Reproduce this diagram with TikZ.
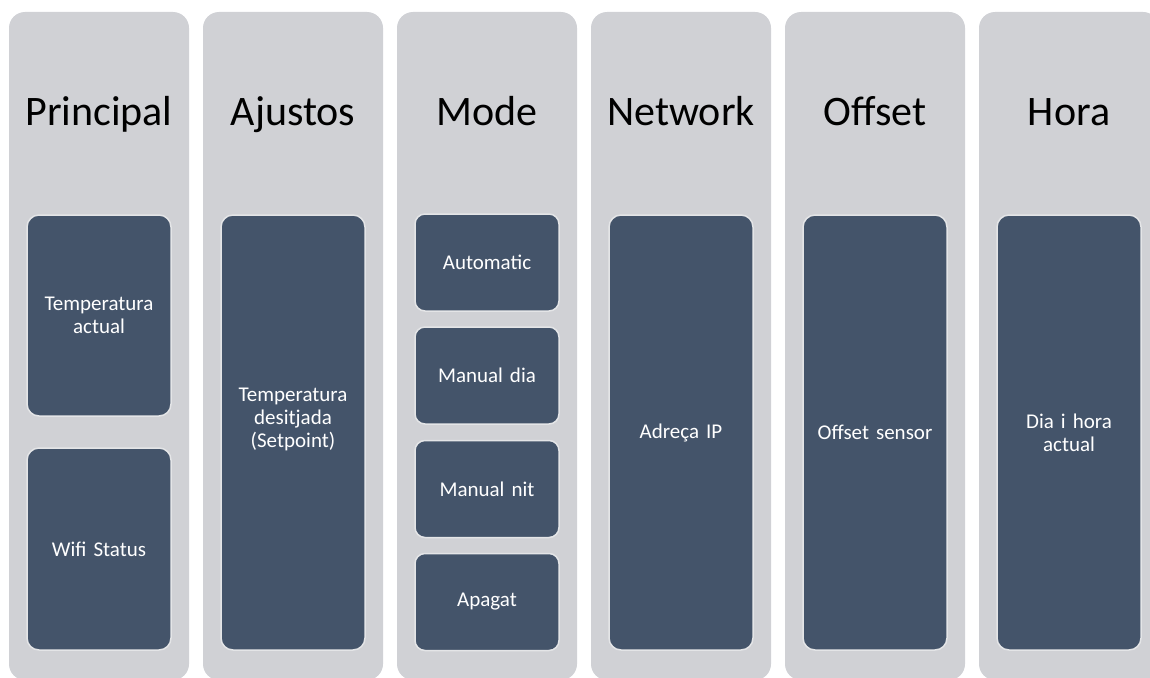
\documentclass[tikz,border=0pt]{standalone}
\usepackage{fontspec}
\setmainfont{Carlito}
\definecolor{colgrey}{HTML}{D0D1D5}
\definecolor{itemfill}{HTML}{44546A}
\definecolor{itemedge}{HTML}{E4E5E7}
\tikzset{
  column/.style={fill=colgrey, draw=none, rounded corners=16pt},
  heading/.style={anchor=base, text=black, font=\fontsize{42}{46}\selectfont, inner sep=0pt},
  item/.style={fill=itemfill, draw=itemedge, line width=1.5pt, rounded corners=12pt,
    minimum width=144pt, text width=130pt, align=center, text=white,
    font=\fontsize{21}{23}\selectfont, inner sep=0pt},
  smallitem/.style={item, rounded corners=10pt},
  itemtext/.style={text=white, align=center, font=\fontsize{21}{23}\selectfont, inner sep=0pt}
}
\begin{document}
\begin{tikzpicture}[x=1pt, y=-1pt]
\useasboundingbox (0,0) rectangle (1150,677);
\clip (0,0) rectangle (1150,677);

% grey columns
\foreach \i in {0,...,5}{
  \path[column] (9+194*\i,12) rectangle (189+194*\i,680);
}

% headings
\node[heading] (hA) at (99,125) {Principal};
\node[heading] (hB) at (293,125) {Ajustos};
\node[heading] (hC) at (487,125) {Mode};
\node[heading] (hD) at (681,125) {Network};
\node[heading] (hE) at (875,125) {Offset};
\node[heading] (hF) at (1069,125) {Hora};

% Principal
\node[item, minimum height=201pt] (temp) at (99,315.5) {Temperatura\\actual};
\node[item, minimum height=202pt] (wifi) at (99,549) {Wifi Status};

% Ajustos
\node[item, minimum height=435pt] (setp) at (293,432.5) {};
\node[itemtext] (setpt) at ([yshift=13pt]setp.center) {Temperatura\\desitjada\\(Setpoint)};

% Mode
\node[smallitem, minimum height=97pt] (auto) at (487,262.5) {Automatic};
\node[smallitem, minimum height=97pt] (mdia) at (487,375.5) {Manual dia};
\node[smallitem, minimum height=97pt] (mnit) at (487,489) {Manual nit};
\node[smallitem, minimum height=97pt] (apag) at (487,602) {Apagat};

% Network
\node[item, minimum height=435pt] (ip) at (681,432.5) {Adreça IP};

% Offset
\node[item, minimum height=435pt] (offs) at (875,432.5) {Offset sensor};

% Hora
\node[item, minimum height=435pt] (hora) at (1069,432.5) {Dia i hora\\actual};
\end{tikzpicture}
\end{document}
